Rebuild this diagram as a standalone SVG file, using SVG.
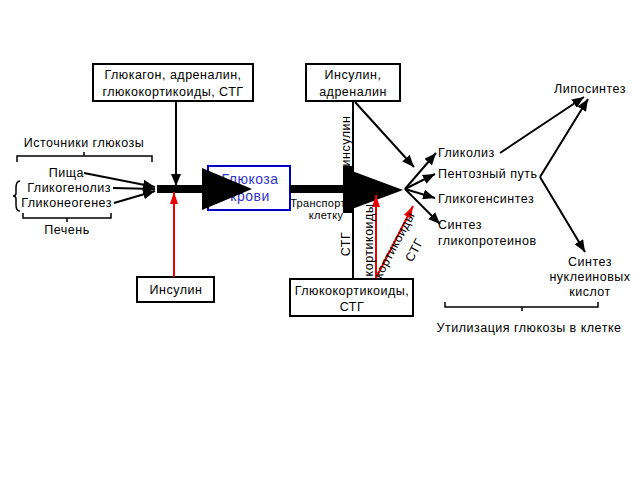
<svg xmlns="http://www.w3.org/2000/svg" width="640" height="480" viewBox="0 0 640 480">
<defs>
<marker id="ah" markerUnits="userSpaceOnUse" markerWidth="12" markerHeight="10" refX="12" refY="5" orient="auto"><path d="M0,0 L12,5 L0,10 z" fill="#000"/></marker>
<marker id="ahr" markerUnits="userSpaceOnUse" markerWidth="12" markerHeight="18" refX="18" refY="6" orient="auto" viewBox="0 0 18 12"><path d="M0,0 L18,6 L0,12 z" fill="#e00"/></marker>
<style>
text{font-family:"Liberation Sans",Arial,sans-serif;font-size:12.5px;letter-spacing:0.5px;fill:#000}
.box{fill:#fff;stroke:#000;stroke-width:2}
.bt{text-anchor:middle}
.c{fill:none;stroke:#000;stroke-width:2;marker-end:url(#ah)}
.r{fill:none;stroke:#e00;stroke-width:2;marker-end:url(#ahr)}
.br{fill:none;stroke:#000;stroke-width:1.5}
</style>
</defs>
<rect width="640" height="480" fill="#fff"/>

<g id="labels">
<text x="84" y="147" text-anchor="middle">Источники глюкозы</text>
<path class="br" d="M17,162 V156 H152 V162 M84,156 V152"/>
<text x="84" y="177" text-anchor="end">Пища</text>
<text x="111" y="192" text-anchor="end">Гликогенолиз</text>
<text x="112" y="207" text-anchor="end">Гликонеогенез</text>
<path class="br" d="M20,181 Q16,181 16,188 V193 Q16,196 13,196 Q16,196 16,199 V205 Q16,211 20,211"/>
<path class="br" d="M23,213 V218 H111 V213 M67,218 V222"/>
<text x="67" y="234" text-anchor="middle">Печень</text>
</g>

<g id="n1"><rect class="box" x="93" y="64" width="160" height="37"/><text class="bt" x="173" y="79">Глюкагон, адреналин,</text><text class="bt" x="173" y="96">глюкокортикоиды, СТГ</text></g>
<g id="n2"><rect class="box" x="306" y="64" width="94" height="37"/><text class="bt" x="353" y="79">Инсулин,</text><text class="bt" x="353" y="96">адреналин</text></g>
<g id="n3"><rect class="box" x="137" y="277" width="77" height="25"/><text class="bt" x="176" y="294">Инсулин</text></g>
<g id="n4"><rect class="box" x="290" y="279" width="123" height="37"/><text class="bt" x="352" y="295">Глюкокортикоиды,</text><text class="bt" x="352" y="311">СТГ</text></g>
<g id="n5"><rect x="208" y="166" width="82" height="44" fill="#fff" stroke="#0000cc" stroke-width="2"/><text x="250" y="184" text-anchor="middle" style="font-size:14px;fill:#3333cc">Глюкоза</text><text x="250" y="201" text-anchor="middle" style="font-size:14px;fill:#3333cc">крови</text></g>

<g id="n6">
<text x="438" y="157">Гликолиз</text>
<text x="438" y="178">Пентозный путь</text>
<text x="438" y="203">Гликогенсинтез</text>
<text x="438" y="229">Синтез</text>
<text x="438" y="245">гликопротеинов</text>
<text x="590" y="93" text-anchor="middle">Липосинтез</text>
<text x="590" y="266" text-anchor="middle">Синтез</text>
<text x="590" y="281" text-anchor="middle">нуклеиновых</text>
<text x="590" y="296" text-anchor="middle">кислот</text>
<path class="br" d="M445,302 V307 H598 V302 M522,307 V311"/>
<text x="529" y="332" text-anchor="middle">Утилизация глюкозы в клетке</text>
<text x="318" y="207" text-anchor="middle" style="font-size:11px;letter-spacing:0.3px">Транспорт</text>
<text x="326" y="219" text-anchor="middle" style="font-size:11px;letter-spacing:0.3px">клетку</text>
</g>

<g id="connectors">
<rect x="157" y="185" width="50" height="8" fill="#000"/>
<polygon points="202,168 252,189 202,210" fill="#000"/>
<rect x="290" y="185" width="60" height="8" fill="#000"/>
<line x1="353" y1="101" x2="353" y2="279" stroke="#000" stroke-width="2"/>
<polygon points="343,166 352,166 352,171 403,190 352,209 352,213 343,213" fill="#000"/>
<line class="c" x1="84" y1="173" x2="155" y2="187"/>
<line class="c" x1="113" y1="188" x2="155" y2="189"/>
<line class="c" x1="114" y1="203" x2="155" y2="191"/>
<line class="c" x1="176" y1="101" x2="176" y2="186"/>
<line class="r" x1="174" y1="277" x2="174" y2="192"/>
<line class="c" x1="355" y1="102" x2="414" y2="167"/>
<line class="c" x1="405" y1="189" x2="436" y2="153"/>
<line class="c" x1="405" y1="189" x2="435" y2="174"/>
<line class="c" x1="405" y1="189" x2="435" y2="198"/>
<line class="c" x1="405" y1="189" x2="440" y2="224"/>
<line class="c" x1="500" y1="153" x2="584" y2="97"/>
<line class="c" x1="540" y1="177" x2="588" y2="99"/>
<line class="c" x1="540" y1="177" x2="585" y2="252"/>
<line class="r" x1="376" y1="278" x2="376" y2="195"/>
<line class="r" x1="376" y1="278" x2="413" y2="206"/>
<text transform="translate(350,141) rotate(-90)" text-anchor="middle" style="fill:#000">инсулин</text>
<text transform="translate(350,244) rotate(-90)" text-anchor="middle" style="fill:#000">СТГ</text>
<text transform="translate(373,240) rotate(-90)" text-anchor="middle" style="fill:#000">кортикоиды</text>
<text transform="translate(398,247) rotate(-62)" text-anchor="middle" style="fill:#000">кортикоиды</text>
<text transform="translate(418,252) rotate(-62)" text-anchor="middle" style="fill:#000">СТГ</text>
</g>
</svg>
